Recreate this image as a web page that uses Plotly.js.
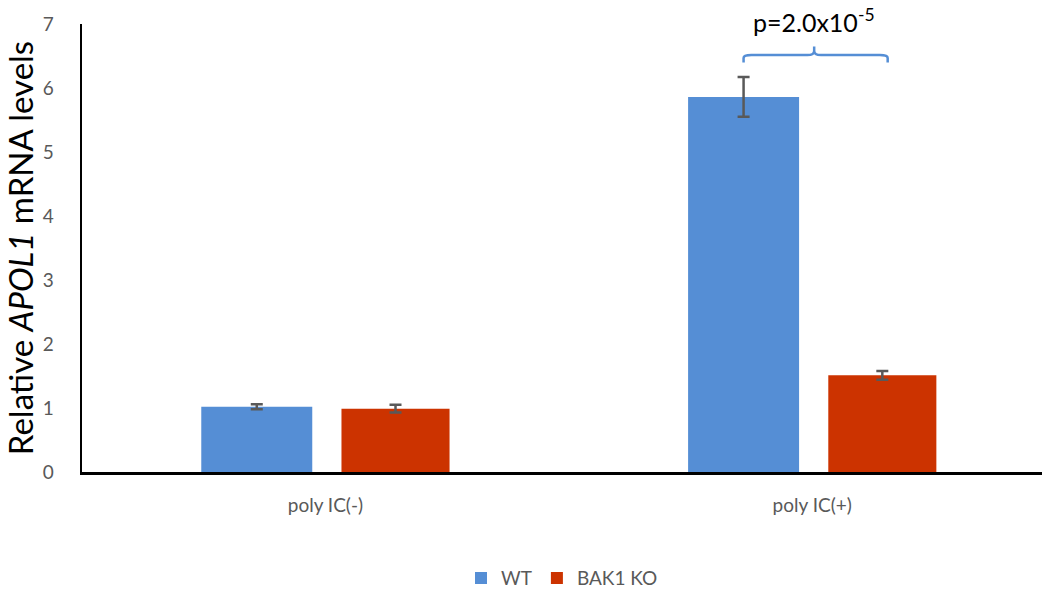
<!DOCTYPE html>
<html>
<head>
<meta charset="utf-8">
<script src="https://cdn.plot.ly/plotly-3.0.1.min.js"></script>
<style>html,body{margin:0;padding:0;background:#fff;}#chart{width:1042px;height:591px;}</style>
</head>
<body>
<div id="chart"></div>
<script>
const categories = ["poly IC(-)", "poly IC(+)"];
const seriesNames = ["WT", "BAK1 KO"];
const wtValues = [1.02, 5.86];
const wtErrors = [0.04, 0.31];
const koValues = [0.99, 1.51];
const koErrors = [0.06, 0.07];
const yTicks = [0, 1, 2, 3, 4, 5, 6, 7];
const pLabel = "p=2.0x10<sup>-5</sup>";

const font = "Lato, 'Open Sans', sans-serif";
const errStyle = {type: "data", visible: true, color: "#595959", thickness: 2.5, width: 6};

const traces = [
  {type: "bar", name: seriesNames[0], x: categories, y: wtValues,
   width: 0.228, offset: -0.255,
   marker: {color: "#558ED5"},
   error_y: Object.assign({array: wtErrors}, errStyle)},
  {type: "bar", name: seriesNames[1], x: categories, y: koValues,
   width: 0.222, offset: 0.033,
   marker: {color: "#CC3300"},
   error_y: Object.assign({array: koErrors}, errStyle)}
];

const layout = {
  width: 1042, height: 591,
  margin: {l: 82, r: 0, t: 24, b: 119, autoexpand: false},
  paper_bgcolor: "#fff", plot_bgcolor: "#fff",
  font: {family: font, color: "#595959", size: 18},
  barmode: "overlay",
  showlegend: true,
  legend: {orientation: "h", x: 0.5, xanchor: "center", y: -0.237, yanchor: "middle",
           font: {size: 19, color: "#595959"}, traceorder: "normal"},
  xaxis: {type: "category", range: [-0.5, 1.472], showline: true, linecolor: "#000", linewidth: 2.5,
          ticks: "", showgrid: false, zeroline: false, ticklabelstandoff: 15, automargin: false,
          tickfont: {size: 19, color: "#595959"}},
  yaxis: {range: [0, 7], tickvals: yTicks, showline: true, linecolor: "#000", linewidth: 2.5,
          ticks: "", showgrid: false, zeroline: false, ticklabelstandoff: 22, automargin: false,
          tickfont: {size: 19, color: "#595959"},
          title: {text: "Relative <i>APOL1</i> mRNA levels", font: {size: 33, color: "#000"}, standoff: 0}},
  shapes: [
    {type: "path", xref: "x", yref: "y",
     path: "M 0.859 6.40 L 0.859 6.47 Q 0.859 6.515 0.875 6.515 L 0.99 6.515 Q 1.004 6.515 1.004 6.58 L 1.004 6.65 L 1.004 6.58 Q 1.004 6.515 1.018 6.515 L 1.139 6.515 Q 1.155 6.515 1.155 6.47 L 1.155 6.40",
     line: {color: "#558ED5", width: 2.5}}
  ],
  annotations: [
    {xref: "x", yref: "y", x: 1.004, y: 6.76, yanchor: "bottom", xanchor: "center",
     text: pLabel, showarrow: false, font: {size: 25, color: "#000"}}
  ]
};

Plotly.newPlot("chart", traces, layout, {displayModeBar: false, staticPlot: true});
</script>
</body>
</html>
